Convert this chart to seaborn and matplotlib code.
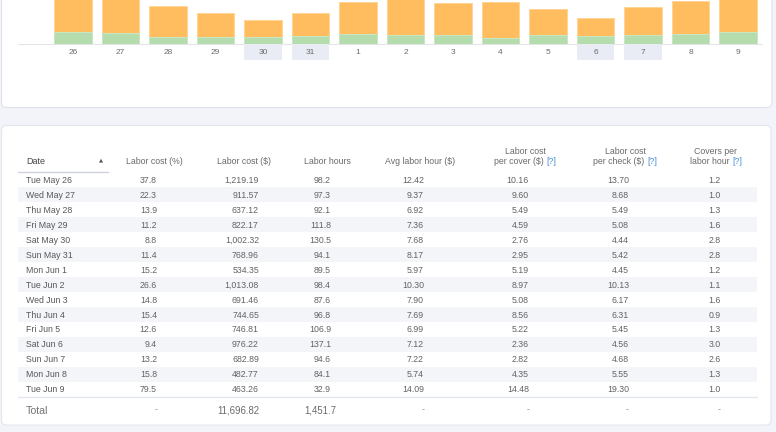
import matplotlib
matplotlib.use("Agg")
import matplotlib.pyplot as plt
import seaborn as sns
from matplotlib.transforms import Affine2D
from matplotlib.patches import Rectangle, FancyBboxPatch
from matplotlib.lines import Line2D

# ---------------- data ----------------
day_labels = ["26", "27", "28", "29", "30", "31", "1", "2", "3", "4", "5", "6", "7", "8", "9"]
bar_total = [55, 52, 38, 31, 24, 31, 42, 48, 41, 42, 34.5, 25.5, 36.5, 43, 50]
bar_green = [12, 10.5, 6.5, 7, 7, 8, 10, 9, 9, 6, 8.5, 8, 9, 10, 12]
weekend_days = ["30", "31", "6", "7"]

dates = ["Tue May 26", "Wed May 27", "Thu May 28", "Fri May 29", "Sat May 30",
         "Sun May 31", "Mon Jun 1", "Tue Jun 2", "Wed Jun 3", "Thu Jun 4",
         "Fri Jun 5", "Sat Jun 6", "Sun Jun 7", "Mon Jun 8", "Tue Jun 9"]
labor_cost_pct = ["37.8", "22.3", "13.9", "11.2", "8.8", "11.4", "15.2", "26.6",
                  "14.8", "15.4", "12.6", "9.4", "13.2", "15.8", "79.5"]
labor_cost_usd = ["1,219.19", "911.57", "637.12", "822.17", "1,002.32", "768.96",
                  "534.35", "1,013.08", "691.46", "744.65", "746.81", "976.22",
                  "682.89", "482.77", "463.26"]
labor_hours = ["98.2", "97.3", "92.1", "111.8", "130.5", "94.1", "89.5", "98.4",
               "87.6", "96.8", "106.9", "137.1", "94.6", "84.1", "32.9"]
avg_labor_hour = ["12.42", "9.37", "6.92", "7.36", "7.68", "8.17", "5.97", "10.30",
                  "7.90", "7.69", "6.99", "7.12", "7.22", "5.74", "14.09"]
cost_per_cover = ["10.16", "9.60", "5.49", "4.59", "2.76", "2.95", "5.19", "8.97",
                  "5.08", "8.56", "5.22", "2.36", "2.82", "4.35", "14.48"]
cost_per_check = ["13.70", "8.68", "5.49", "5.08", "4.44", "5.42", "4.45", "10.13",
                  "6.17", "6.31", "5.45", "4.56", "4.68", "5.55", "19.30"]
covers_per_hour = ["1.2", "1.0", "1.3", "1.6", "2.8", "2.8", "1.2", "1.1",
                   "1.6", "0.9", "1.3", "3.0", "2.6", "1.3", "1.0"]
totals = ["-", "11,696.82", "1,451.7", "-", "-", "-", "-"]

headers_line1 = ["", "", "", "", "Labor cost", "Labor cost", "Covers per"]
headers_line2 = ["Labor cost (%)", "Labor cost ($)", "Labor hours", "Avg labor hour ($)",
                 "per cover ($) ", "per check ($) ", "labor hour "]
header_help = [False, False, False, False, True, True, True]

# ---------------- style ----------------
sns.set_theme(style="white")
plt.rcParams["font.family"] = ["Liberation Sans", "DejaVu Sans"]

W, H = 776, 432
fig = plt.figure(figsize=(W / 100, H / 100), dpi=100)
bg = "#f2f4f9"
fig.patch.set_facecolor(bg)
px = Affine2D().scale(1 / W, -1 / H).translate(0, 1) + fig.transFigure


def txt(x, y, s, size, color, ha="left", **kw):
    """Place text so that its cap-height centre sits at pixel row y."""
    off = 0.358 * size * 100 / 72
    return fig.text(x, y + off, s, transform=px, fontsize=size, color=color,
                    va="baseline", ha=ha, **kw)


# cards
top_card = FancyBboxPatch((1.5, -20), 770.5, 127.5, boxstyle="round,pad=0,rounding_size=5",
                          transform=px, facecolor="white", edgecolor="#dfe2ea", lw=0.8,
                          zorder=-5)
bot_card = FancyBboxPatch((1.5, 125.5), 769.5, 299.5, boxstyle="round,pad=0,rounding_size=5",
                          transform=px, facecolor="white", edgecolor="#e4e6ee", lw=0.8,
                          zorder=-5)
fig.patches.extend([top_card, bot_card])

# ---------------- bar chart ----------------
orange = "#ffbd5f"
green = "#b4dcac"
base_y = 43.5
x0 = 73 - 47.5 / 2
fig.add_artist(Line2D([18, 762], [base_y, base_y], transform=px, color="#e4e5ea", lw=0.8,
                      zorder=-1))
ax = fig.add_axes([x0 / W, (H - base_y) / H, (47.5 * 15) / W, base_y / H])
ax.set_zorder(2)
ax.set_facecolor("none")
sns.barplot(x=day_labels, y=bar_total, color=orange, saturation=1, width=0.78,
            linewidth=0.7, edgecolor="#ffd597", ax=ax)
sns.barplot(x=day_labels, y=bar_green, color=green, saturation=1, width=0.78,
            linewidth=0.7, edgecolor="#c9e6c3", ax=ax)
ax.set_xlim(-0.5, 14.5)
ax.set_ylim(0, base_y)
ax.set_yticks([])
ax.set_xlabel("")
ax.set_ylabel("")
for s in ax.spines.values():
    s.set_visible(False)
ax.tick_params(axis="x", length=0, pad=4.2, labelsize=6, labelcolor="#6b6b6b")
for i, d in enumerate(day_labels):
    if d in weekend_days:
        ax.add_patch(Rectangle((i - 0.39, -16.5), 0.78, 16.5, facecolor="#e9ecf4",
                               edgecolor="none", clip_on=False, zorder=0))

# ---------------- table ----------------
row_font = 6.3
txt_col = "#636363"
date_col = "#585858"
head_col = "#6a6a6a"
blue = "#4a8fdc"
row_y0 = 180.0
row_h = 14.93
left, right = 18, 757

col_center = [154, 244, 327, 420, 525, 625, 716]
col_right = [157, 259, 331, 424, 529, 629, 721]
help_split = [0, 0, 0, 0, 546, 647, 732]

# header
txt(26, 161, "Date", 6.5, "#444444")
txt(101, 160, "▲", 3.8, "#555555", ha="center", family=["DejaVu Sans"])
fig.add_artist(Line2D([18, 108], [172, 172], transform=px, color="#cfd2da", lw=1))
for j in range(7):
    if headers_line1[j]:
        txt(col_center[j], 150.5, headers_line1[j], row_font, head_col, ha="center")
    if header_help[j]:
        txt(help_split[j], 161, headers_line2[j], row_font, head_col, ha="right")
        txt(help_split[j], 161, "[?]", row_font, blue, ha="left")
    else:
        txt(col_center[j], 161, headers_line2[j], row_font, head_col, ha="center")

columns = [labor_cost_pct, labor_cost_usd, labor_hours, avg_labor_hour,
           cost_per_cover, cost_per_check, covers_per_hour]
for i, d in enumerate(dates):
    y = row_y0 + i * row_h
    if i % 2 == 1:
        fig.patches.append(Rectangle((left, y - row_h / 2), right - left, row_h,
                                     transform=px, facecolor="#f4f5f9", edgecolor="none",
                                     zorder=-4))
    txt(26, y, d, row_font, date_col)
    for j, col in enumerate(columns):
        txt(col_right[j], y, col[i], row_font, txt_col, ha="right")

fig.add_artist(Line2D([left, right], [397, 397], transform=px, color="#e3e6f0", lw=1))

# total row
ty = 410
txt(26, ty, "Total", 7.6, "#747474")
total_right = [157, 259, 336, 424, 529, 629, 721]
total_dash_center = [156, 0, 0, 423, 528, 627, 719]
for j, t in enumerate(totals):
    if t == "-":
        txt(total_dash_center[j], ty - 1, t, 6.3, "#8a8a8a", ha="center")
    else:
        txt(total_right[j], ty, t, 6.9, "#6a6a6a", ha="right")

fig.savefig("out.png", dpi=100, facecolor=fig.get_facecolor())
